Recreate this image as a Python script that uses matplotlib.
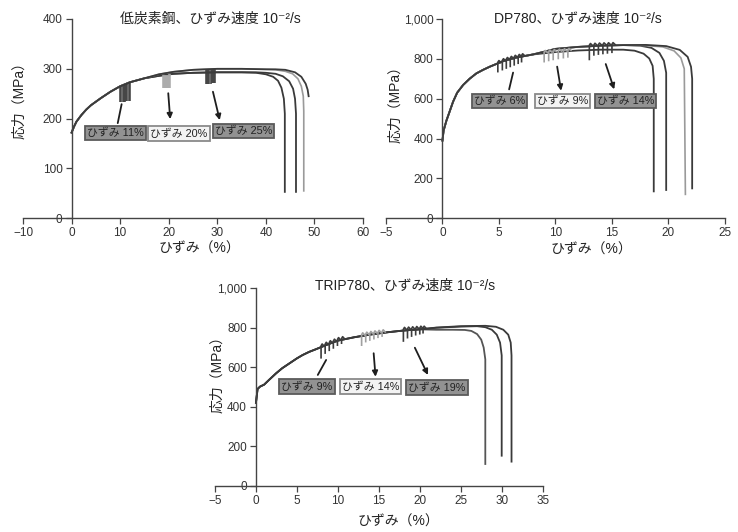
#!/usr/bin/env python3

import numpy as np
import matplotlib
matplotlib.use("Agg")
import matplotlib.pyplot as plt

OUTPUT_FNAME = "out.png"

plt.rcParams['font.family'] = ['Liberation Sans', 'Noto Sans CJK JP', 'DejaVu Sans']
plt.rcParams['axes.unicode_minus'] = True

# ---------------- data (strain %, stress MPa) ----------------

# low carbon steel
lc_base_x = [0, 0.5, 1, 2, 3, 4, 6, 8, 10, 12, 15]
lc_base_y = [172, 184, 194, 207, 218, 227, 241, 254, 265, 273, 281]
lc_low_x = [18, 21, 25, 30, 35]
lc_low_y = [286, 290, 292, 293, 293]
lc_high_x = [18, 21, 25, 30, 35, 40]
lc_high_y = [289, 294, 298, 300, 300, 299]
lc_a_x = [38, 40, 41.5, 42.5, 43.2, 43.7, 43.9, 43.9]
lc_a_y = [292, 289, 284, 276, 262, 240, 210, 53]
lc_b_x = [38, 40, 42, 43.5, 44.8, 45.6, 46.0, 46.2, 46.2]
lc_b_y = [293, 292, 290, 285, 275, 260, 240, 210, 53]
lc_c_x = [42, 44, 45.5, 46.6, 47.3, 47.7, 47.8, 47.8]
lc_c_y = [298, 295, 290, 280, 265, 245, 215, 55]
lc_d_x = [42, 44, 46, 47.3, 48.2, 48.6, 48.8]
lc_d_y = [299, 298, 293, 284, 270, 258, 245]

lc_ser1_x = [10.0, 10.25, 10.5, 10.75, 11.0, 11.25, 11.5, 11.75, 12.0]
lc_ser1_bot = [234, 234, 234, 234, 234, 235, 235, 235, 235]
lc_ser2_x = [18.8, 19.0, 19.2, 19.4, 19.6, 19.8, 20.0, 20.2]
lc_ser2_bot = [261, 261, 261, 261, 261, 261, 261, 261]
lc_ser3_x = [27.6, 27.85, 28.1, 28.35, 28.6, 28.85, 29.1, 29.35, 29.6]
lc_ser3_bot = [270, 270, 270, 270, 270, 271, 271, 271, 271]

lc_labels = ["ひずみ 11%", "ひずみ 20%", "ひずみ 25%"]
lc_xticks = [-10, 0, 10, 20, 30, 40, 50, 60]
lc_xticklabels = ["\u221210", "0", "10", "20", "30", "40", "50", "60"]
lc_yticks = [0, 100, 200, 300, 400]
lc_yticklabels = ["0", "100", "200", "300", "400"]

# DP780
dp_base_x = [0, 0.1, 0.35, 0.6, 0.94, 1.3, 1.83, 2.4, 3.0, 3.6, 4.2, 5.4, 6.5, 8]
dp_base_y = [390, 440, 490, 530, 585, 630, 669, 700, 727, 745, 761, 789, 806, 822]
dp_low_x = [10, 12, 14, 16]
dp_low_y = [834, 842, 846, 846]
dp_high_x = [10, 12, 14, 16]
dp_high_y = [850, 860, 866, 869]
dp_a_x = [17, 17.8, 18.3, 18.6, 18.7, 18.7]
dp_a_y = [841, 826, 802, 765, 700, 135]
dp_b_x = [17.5, 18.5, 19.2, 19.6, 19.8, 19.8]
dp_b_y = [866, 855, 830, 790, 730, 142]
dp_c_x = [18, 19.5, 20.5, 21.1, 21.4, 21.5]
dp_c_y = [867, 860, 840, 805, 750, 120]
dp_d_x = [18, 19.8, 21.0, 21.7, 22.0, 22.1, 22.1]
dp_d_y = [870, 864, 845, 810, 760, 700, 150]

dp_ser1_x = [4.9, 5.3, 5.65, 6.0, 6.35, 6.7, 7.0]
dp_ser1_bot = [736, 746, 754, 762, 770, 778, 786]
dp_ser2_x = [9.0, 9.4, 9.8, 10.25, 10.7, 11.1]
dp_ser2_bot = [786, 792, 797, 802, 806, 810]
dp_ser3_x = [13.0, 13.4, 13.8, 14.2, 14.6, 15.0]
dp_ser3_bot = [797, 820, 824, 827, 830, 833]

dp_labels = ["ひずみ 6%", "ひずみ 9%", "ひずみ 14%"]
dp_xticks = [-5, 0, 5, 10, 15, 20, 25]
dp_xticklabels = ["\u22125", "0", "5", "10", "15", "20", "25"]
st_yticks = [0, 200, 400, 600, 800, 1000]
st_yticklabels = ["0", "200", "400", "600", "800", "1,000"]

# TRIP780
tr_base_x = [0, 0.2, 0.5, 1.0, 1.6, 2.45, 3.2, 4.1, 5.0, 5.7, 6.5, 7.3, 8.6, 10, 12, 14, 16, 18, 20]
tr_base_y = [420, 490, 502, 512, 536, 569, 595, 620, 645, 662, 678, 691, 713, 735, 752, 766, 777, 786, 792]
tr_a_x = [22, 24, 25.5, 26.3, 27.0, 27.5, 27.8, 28.0, 28.0]
tr_a_y = [790, 790, 789, 784, 768, 740, 700, 640, 110]
tr_b_x = [22, 25, 27, 28, 28.8, 29.4, 29.8, 30.0, 30.0]
tr_b_y = [800, 806, 808, 803, 790, 765, 725, 660, 152]
tr_c_x = [22, 25, 28, 29.3, 30.2, 30.8, 31.1, 31.2, 31.2]
tr_c_y = [801, 808, 810, 805, 790, 765, 725, 660, 122]

tr_ser1_x = [7.95, 8.45, 8.95, 9.45, 9.95, 10.45]
tr_ser1_bot = [648, 672, 686, 698, 712, 722]
tr_ser2_x = [12.9, 13.4, 13.9, 14.4, 14.9, 15.4]
tr_ser2_bot = [712, 730, 738, 745, 752, 758]
tr_ser3_x = [18.0, 18.5, 19.0, 19.5, 20.0, 20.4]
tr_ser3_bot = [733, 750, 758, 765, 770, 775]

tr_labels = ["ひずみ 9%", "ひずみ 14%", "ひずみ 19%"]
tr_xticks = [-5, 0, 5, 10, 15, 20, 25, 30, 35]
tr_xticklabels = ["\u22125", "0", "5", "10", "15", "20", "25", "30", "35"]

TITLES = [
    "低炭素鋼、ひずみ速度 10\u207b\u00b2/s",
    "DP780、ひずみ速度 10\u207b\u00b2/s",
    "TRIP780、ひずみ速度 10\u207b\u00b2/s",
]
XLABEL = "ひずみ（%）"
YLABEL = "応力（MPa）"

# ---------------- styling ----------------
DARK = '#3a3a3a'
GRAY = '#9a9a9a'
BOX_DARK = dict(boxstyle='square,pad=0.18', fc='#929292', ec='#5a5a5a', lw=1.3)
BOX_LIGHT = dict(boxstyle='square,pad=0.18', fc='#f3f3f3', ec='#8a8a8a', lw=1.3)


def style_axes(ax, xlim, ylim, xticks, xticklabels, yticks, yticklabels):
    ax.set_xlim(*xlim)
    ax.set_ylim(*ylim)
    for s in ['top', 'right']:
        ax.spines[s].set_visible(False)
    ax.spines['left'].set_position(('data', 0))
    for s in ['left', 'bottom']:
        ax.spines[s].set_color('#444444')
        ax.spines[s].set_linewidth(1.0)
    ax.set_xticks(xticks, xticklabels)
    ax.set_yticks(yticks, yticklabels)
    ax.tick_params(direction='out', length=4, width=0.9, color='#444444',
                   labelsize=8.5, labelcolor='#333333', pad=2.5)
    ax.patch.set_alpha(0)


def draw_serrations(ax, xs, bots, ref_x, ref_y, color, hook=None, lw=1.0):
    tops = np.interp(xs, ref_x, ref_y)
    for x, top, bot in zip(xs, tops, bots):
        if hook is None:
            ax.plot([x, x], [bot, top], color=color, lw=lw, solid_capstyle='butt')
        else:
            w, h = hook
            ax.plot([x, x, x + 0.35 * w, x + w], [bot, top + 0.4 * h, top + h, top + 0.3 * h],
                    color=color, lw=lw)


def label_box(ax, text, xy, box):
    ax.text(xy[0], xy[1], text, ha='center', va='center', fontsize=7.8,
            color='#222222', bbox=box, zorder=5)


def arrow(ax, start, end, head):
    style = '-|>' if head else '-'
    ax.annotate('', xy=end, xytext=start,
                arrowprops=dict(arrowstyle=style, color='#1e1e1e', lw=1.3,
                                mutation_scale=8, shrinkA=0, shrinkB=0))


def texts(ax, title_pos, xlabel_pos, ylabel_pos, title):
    ax.text(*title_pos, title, transform=ax.transAxes, ha='center', va='center',
            fontsize=10, color='#222222')
    ax.text(*xlabel_pos, XLABEL, transform=ax.transAxes, ha='center', va='center',
            fontsize=10, color='#222222')
    ax.text(*ylabel_pos, YLABEL, transform=ax.transAxes, ha='center', va='center',
            fontsize=10, color='#222222', rotation=90)


def plot():
    fig = plt.figure(figsize=(7.38, 5.32), dpi=100)

    # ---- low carbon steel ----
    ax = fig.add_axes([0.0312, 0.5897, 0.4607, 0.3746])
    style_axes(ax, (-10, 60), (0, 400), lc_xticks, lc_xticklabels, lc_yticks, lc_yticklabels)
    low_x, low_y = lc_base_x + lc_low_x, lc_base_y + lc_low_y
    high_x, high_y = lc_base_x + lc_high_x, lc_base_y + lc_high_y
    ax.plot(low_x + lc_a_x, low_y + lc_a_y, color=DARK, lw=1.3)
    ax.plot(low_x + lc_b_x, low_y + lc_b_y, color=DARK, lw=1.3)
    ax.plot(high_x + lc_c_x, high_y + lc_c_y, color=GRAY, lw=1.2)
    ax.plot(high_x + lc_d_x, high_y + lc_d_y, color=DARK, lw=1.3)
    draw_serrations(ax, lc_ser1_x, lc_ser1_bot, low_x, low_y, '#3c3c3c', lw=1.1)
    draw_serrations(ax, lc_ser2_x, lc_ser2_bot, low_x, low_y, '#a8a8a8', lw=1.1)
    draw_serrations(ax, lc_ser3_x, lc_ser3_bot, high_x, high_y, '#3c3c3c', lw=1.1)
    arrow(ax, (10.3, 229), (9.5, 191), False)
    arrow(ax, (19.9, 251), (20.3, 199), True)
    arrow(ax, (29.1, 254), (30.5, 197), True)
    label_box(ax, lc_labels[0], (9.05, 171), BOX_DARK)
    label_box(ax, lc_labels[1], (22.1, 170), BOX_LIGHT)
    label_box(ax, lc_labels[2], (35.35, 175), BOX_DARK)
    texts(ax, (0.55, 1.0), (0.52, -0.15), (-0.01, 0.61), TITLES[0])

    # ---- DP780 ----
    ax = fig.add_axes([0.5230, 0.5897, 0.4593, 0.3746])
    style_axes(ax, (-5, 25), (0, 1000), dp_xticks, dp_xticklabels, st_yticks, st_yticklabels)
    low_x, low_y = dp_base_x + dp_low_x, dp_base_y + dp_low_y
    high_x, high_y = dp_base_x + dp_high_x, dp_base_y + dp_high_y
    ax.plot(low_x + dp_a_x, low_y + dp_a_y, color=DARK, lw=1.3)
    ax.plot(high_x + dp_b_x, high_y + dp_b_y, color=DARK, lw=1.3)
    ax.plot(high_x + dp_c_x, high_y + dp_c_y, color=GRAY, lw=1.2)
    ax.plot(high_x + dp_d_x, high_y + dp_d_y, color=DARK, lw=1.3)
    draw_serrations(ax, dp_ser1_x, dp_ser1_bot, high_x, high_y, '#3c3c3c', hook=(0.28, 14), lw=1.2)
    draw_serrations(ax, dp_ser2_x, dp_ser2_bot, low_x, low_y, '#a0a0a0', hook=(0.28, 14), lw=1.2)
    draw_serrations(ax, dp_ser3_x, dp_ser3_bot, high_x, high_y, '#3c3c3c', hook=(0.28, 14), lw=1.2)
    arrow(ax, (6.25, 731), (5.9, 647), False)
    arrow(ax, (10.15, 761), (10.5, 640), True)
    arrow(ax, (14.45, 774), (15.2, 647), True)
    label_box(ax, dp_labels[0], (5.08, 590), BOX_DARK)
    label_box(ax, dp_labels[1], (10.65, 590), BOX_LIGHT)
    label_box(ax, dp_labels[2], (16.2, 590), BOX_DARK)
    texts(ax, (0.565, 1.0), (0.607, -0.16), (0.027, 0.59), TITLES[1])

    # ---- TRIP780 ----
    ax = fig.add_axes([0.2913, 0.0870, 0.4440, 0.3711])
    style_axes(ax, (-5, 35), (0, 1000), tr_xticks, tr_xticklabels, st_yticks, st_yticklabels)
    ax.plot(tr_base_x + tr_a_x, tr_base_y + tr_a_y, color='#555555', lw=1.3)
    ax.plot(tr_base_x + tr_b_x, tr_base_y + tr_b_y, color=DARK, lw=1.3)
    ax.plot(tr_base_x + tr_c_x, tr_base_y + tr_c_y, color=DARK, lw=1.3)
    draw_serrations(ax, tr_ser1_x, tr_ser1_bot, tr_base_x, tr_base_y, '#3c3c3c', hook=(0.38, 16), lw=1.2)
    draw_serrations(ax, tr_ser2_x, tr_ser2_bot, tr_base_x, tr_base_y, '#a0a0a0', hook=(0.38, 16), lw=1.2)
    draw_serrations(ax, tr_ser3_x, tr_ser3_bot, tr_base_x, tr_base_y, '#3c3c3c', hook=(0.38, 16), lw=1.2)
    arrow(ax, (8.57, 637), (7.55, 561), False)
    arrow(ax, (14.37, 671), (14.6, 552), True)
    arrow(ax, (19.4, 699), (21.0, 561), True)
    label_box(ax, tr_labels[0], (6.24, 503), BOX_DARK)
    label_box(ax, tr_labels[1], (14.0, 503), BOX_LIGHT)
    label_box(ax, tr_labels[2], (22.1, 498), BOX_DARK)
    texts(ax, (0.58, 1.01), (0.56, -0.18), (0.006, 0.58), TITLES[2])

    fig.savefig(OUTPUT_FNAME, dpi=100)


def main():
    plot()


if __name__ == "__main__":
    main()
